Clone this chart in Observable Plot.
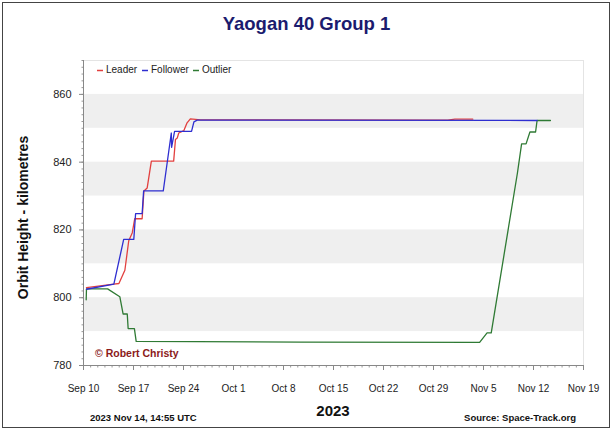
<!DOCTYPE html>
<html><head><meta charset="utf-8">
<script src="https://cdn.jsdelivr.net/npm/d3@7"></script>
<script src="https://cdn.jsdelivr.net/npm/@observablehq/plot@0.6"></script>
<style>
body{margin:0;background:#fff;}
#wrap{position:relative;width:612px;height:431px;overflow:hidden;background:#fff;}
#border{position:absolute;left:2px;top:2px;width:608px;height:426px;border:1.5px solid #444;box-sizing:border-box;pointer-events:none;}
</style></head><body>
<div id="wrap"><div id="chart"></div><div id="border"></div></div>
<script>
const seriesNames = ["Leader", "Follower", "Outlier"];
const seriesColors = ["#e2403f", "#2e2ed0", "#2f7a34"];

const leader = [
  ["2023-09-10T10:00Z", 803.0], ["2023-09-14T06:00Z", 804.0], ["2023-09-14T23:00Z", 804.2],
  ["2023-09-15T19:00Z", 808.1], ["2023-09-16T08:00Z", 816.8], ["2023-09-16T20:00Z", 819.2],
  ["2023-09-17T04:00Z", 823.3], ["2023-09-18T05:00Z", 823.3], ["2023-09-18T11:00Z", 831.5],
  ["2023-09-18T22:00Z", 832.4], ["2023-09-19T12:00Z", 840.3], ["2023-09-22T15:00Z", 840.3],
  ["2023-09-22T21:00Z", 846.7], ["2023-09-23T03:00Z", 847.1], ["2023-09-23T08:00Z", 848.6],
  ["2023-09-24T01:00Z", 849.3], ["2023-09-24T12:00Z", 851.6], ["2023-09-24T23:00Z", 852.8],
  ["2023-09-26T09:00Z", 852.5], ["2023-10-31T00:00Z", 852.4], ["2023-11-01T00:00Z", 852.7],
  ["2023-11-03T12:00Z", 852.7]
];
const follower = [
  ["2023-09-10T10:00Z", 802.5], ["2023-09-14T06:00Z", 804.0], ["2023-09-15T15:00Z", 817.2],
  ["2023-09-17T01:00Z", 817.2], ["2023-09-17T07:00Z", 824.8], ["2023-09-18T05:00Z", 824.8],
  ["2023-09-18T10:00Z", 831.5], ["2023-09-21T04:00Z", 831.5], ["2023-09-22T07:00Z", 848.6],
  ["2023-09-22T08:00Z", 844.4], ["2023-09-22T18:00Z", 849.1], ["2023-09-25T03:00Z", 849.1],
  ["2023-09-25T11:00Z", 851.9], ["2023-09-25T22:00Z", 852.4], ["2023-11-12T12:00Z", 852.3]
];
const outlier = [
  ["2023-09-10T09:00Z", 799.4], ["2023-09-10T10:00Z", 802.6], ["2023-09-13T09:00Z", 802.6],
  ["2023-09-15T02:00Z", 800.3], ["2023-09-15T13:00Z", 795.2], ["2023-09-16T03:00Z", 795.2],
  ["2023-09-16T06:00Z", 790.9], ["2023-09-17T03:00Z", 790.9], ["2023-09-17T09:00Z", 787.1],
  ["2023-10-10T10:00Z", 786.9], ["2023-11-04T11:00Z", 786.8], ["2023-11-05T12:00Z", 789.6],
  ["2023-11-06T02:00Z", 789.6], ["2023-11-09T18:00Z", 836.8], ["2023-11-10T08:00Z", 845.4],
  ["2023-11-10T23:00Z", 845.4], ["2023-11-11T12:00Z", 848.9], ["2023-11-12T07:00Z", 848.9],
  ["2023-11-12T12:00Z", 852.3], ["2023-11-14T09:00Z", 852.3]
];

const xStart = "2023-09-10", xEnd = "2023-11-19";
const yTicks = [780, 800, 820, 840, 860];
const bands = [[790, 800], [810, 820], [830, 840], [850, 860]];
const xTickLabels = ["Sep 10","Sep 17","Sep 24","Oct 1","Oct 8","Oct 15","Oct 22","Oct 29","Nov 5","Nov 12","Nov 19"];

const title = "Yaogan 40 Group 1";
const yLabel = "Orbit Height - kilometres";
const xLabel = "2023";
const stamp = "2023 Nov 14, 14:55 UTC";
const source = "Source: Space-Track.org";
const credit = "\u00A9 Robert Christy";

const x0 = d3.isoParse(xStart), x1 = d3.isoParse(xEnd);
const toRows = (name, arr) => arr.map(([t, v]) => ({series: name, date: d3.isoParse(t), km: v}));
// draw order: outlier under, follower on top
const rows = [...toRows("Outlier", outlier), ...toRows("Leader", leader), ...toRows("Follower", follower)];
const weekly = d3.utcDay.every(7).range ? d3.utcDays(x0, d3.utcDay.offset(x1, 1), 7) : [];
const daily = d3.utcDays(x0, d3.utcDay.offset(x1, 1));
const labelMap = new Map(weekly.map((d, i) => [+d, xTickLabels[i]]));
const minorY = d3.range(780, 871, 2);

const font = "'Liberation Sans', Arial, sans-serif";
const chart = Plot.plot({
  width: 612, height: 431,
  marginLeft: 83, marginRight: 29, marginTop: 60, marginBottom: 66,
  style: {fontFamily: font, background: "transparent", color: "#222"},
  x: {type: "utc", domain: [x0, x1], label: null},
  y: {domain: [780, 870], label: null},
  color: {domain: seriesNames, range: seriesColors},
  marks: [
    Plot.rect(bands, {x1: () => x0, x2: () => x1, y1: d => d[0], y2: d => d[1], fill: "#efefef"}),
    Plot.frame({stroke: "#e4e4e4"}),
    Plot.line(rows, {x: "date", y: "km", z: "series", stroke: "series", strokeWidth: 1.3}),
    Plot.axisY({ticks: minorY, tickSize: 1.5, text: null, stroke: "#999", label: null}),
    Plot.axisY({ticks: yTicks, tickSize: 4, tickPadding: 8, fontSize: 11, stroke: "#888", label: null}),
    Plot.axisX({ticks: daily, tickSize: 2.5, text: null, stroke: "#999", label: null}),
    Plot.axisX({ticks: weekly, tickSize: 5, tickPadding: 14, fontSize: 10, stroke: "#888",
      tickFormat: d => labelMap.get(+d), label: null}),
    Plot.ruleX([x0], {y1: 780, y2: 870, stroke: "#888"}),
    Plot.ruleY([780], {x1: x0, x2: x1, stroke: "#888"})
  ]
});
document.getElementById("chart").appendChild(chart);

const svg = d3.select(chart);
const addText = (txt, x, y, size, weight, fill, anchor) =>
  svg.append("text").attr("x", x).attr("y", y).attr("font-size", size).attr("font-weight", weight)
    .attr("fill", fill).attr("text-anchor", anchor).attr("font-family", font).text(txt);

addText(title, 306.5, 30, 18.5, "bold", "#1b1b6e", "middle");
svg.append("text").attr("transform", "translate(28,217.5) rotate(-90)").attr("font-size", 14)
  .attr("font-weight", "bold").attr("fill", "#111").attr("text-anchor", "middle")
  .attr("font-family", font).text(yLabel);
addText(xLabel, 333, 416, 15, "bold", "#111", "middle");
addText(stamp, 90, 421, 9.5, "bold", "#111", "start");
addText(source, 576, 421, 9.5, "bold", "#111", "end");
addText(credit, 95, 357, 10.5, "bold", "#8b1a1a", "start");

// legend
const legendX = [97, 142, 193];
seriesNames.forEach((name, i) => {
  svg.append("line").attr("x1", legendX[i]).attr("x2", legendX[i] + 6).attr("y1", 70.5).attr("y2", 70.5)
    .attr("stroke", seriesColors[i]).attr("stroke-width", 1.5);
  addText(name, legendX[i] + 9, 72.5, 10, "normal", "#222", "start");
});
</script>
</body></html>
